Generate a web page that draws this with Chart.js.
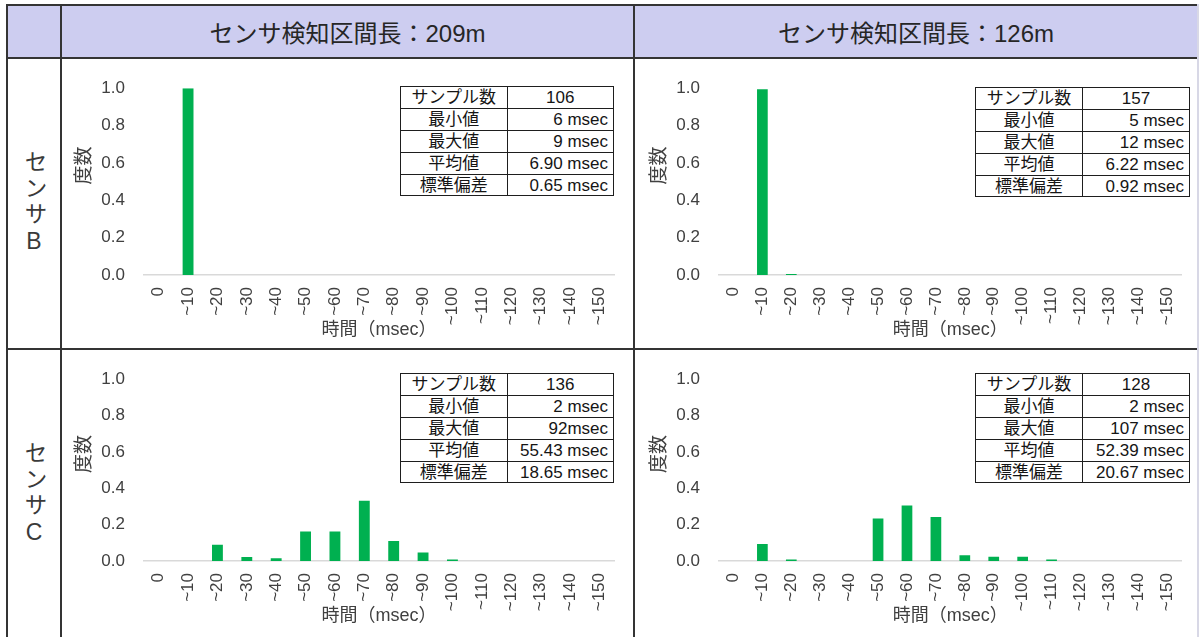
<!DOCTYPE html>
<html lang="ja">
<head>
<meta charset="utf-8">
<title>センサ検知時間の度数分布</title>
<script src="https://cdn.jsdelivr.net/npm/chart.js@4.4.1/dist/chart.umd.min.js"></script>
<style>
  html, body { margin: 0; padding: 0; background: #fff; }
  body {
    width: 1200px; height: 637px; position: relative; overflow: hidden;
    font-family: "Liberation Sans", "Noto Sans CJK JP", sans-serif;
  }
  .hdr-bg { position: absolute; left: 7px; top: 5px; width: 1191px; height: 53px; background: #cdcdf0; }
  .hl, .vl { position: absolute; background: #343434; }
  .hl { height: 2px; }
  .vl { width: 2px; }
  .head {
    position: absolute; top: 5px; height: 53px;
    display: flex; align-items: center; justify-content: center;
    font-size: 24px; color: #262626;
  }
  .side {
    position: absolute; left: 7px; width: 54px;
    display: flex; align-items: center; justify-content: center;
  }
  .side span {
    writing-mode: vertical-rl; text-orientation: upright;
    font-size: 23px; color: #3a3a3a; letter-spacing: 3px;
  }
  .cell { position: absolute; }
  .cell canvas { position: absolute; left: 0; top: 0; }
  .stats {
    position: absolute; border-collapse: collapse; table-layout: fixed;
    font-size: 17px; color: #151515; background: #fff;
  }
  .stats td {
    border: 1.5px solid #1e1e1e; height: 21.9px; padding: 0 5px;
    line-height: 1; white-space: nowrap; box-sizing: border-box;
  }
  .stats td.k { text-align: center; }
  .stats td.v { text-align: right; }
  .stats tr:first-of-type td.v { text-align: center; }
</style>
</head>
<body>
<script>
// ---- histogram bins (time, msec) ----
const binLabels = ['0', '~10', '~20', '~30', '~40', '~50', '~60', '~70',
                   '~80', '~90', '~100', '~110', '~120', '~130', '~140', '~150'];

// relative frequency per bin
const sensorB209 = [0, 1.000, 0, 0, 0, 0, 0, 0, 0, 0, 0, 0, 0, 0, 0, 0];
const sensorB126 = [0, 0.994, 0.006, 0, 0, 0, 0, 0, 0, 0, 0, 0, 0, 0, 0, 0];
const sensorC209 = [0, 0, 0.089, 0.022, 0.015, 0.162, 0.162, 0.331, 0.110, 0.047, 0.008, 0, 0, 0, 0, 0];
const sensorC126 = [0, 0.094, 0.008, 0, 0, 0.234, 0.305, 0.242, 0.031, 0.023, 0.023, 0.008, 0, 0, 0, 0];

// y axis ticks
const yTicks = [0, 0.2, 0.4, 0.6, 0.8, 1.0];

// summary statistics
const statNames = ['サンプル数', '最小値', '最大値', '平均値', '標準偏差'];
const statsB209 = ['106', '6 msec', '9 msec', '6.90 msec', '0.65 msec'];
const statsB126 = ['157', '5 msec', '12 msec', '6.22 msec', '0.92 msec'];
const statsC209 = ['136', '2 msec', '92msec', '55.43 msec', '18.65 msec'];
const statsC126 = ['128', '2 msec', '107 msec', '52.39 msec', '20.67 msec'];

// table headings
const sectionTitles = ['センサ検知区間長：209m', 'センサ検知区間長：126m'];
const sensorNames = ['センサB', 'センサC'];
const xTitle = '時間（msec）';
const yTitle = '度数';

// ---- page grid ----
const colX = [7, 61, 634, 1198];
const rowY = [5, 58, 349, 640];

function addDiv(cls, style, text) {
  const d = document.createElement('div');
  d.className = cls;
  Object.assign(d.style, style);
  if (text !== undefined) d.textContent = text;
  document.body.appendChild(d);
  return d;
}

addDiv('hdr-bg', {});
sectionTitles.forEach((t, i) => {
  addDiv('head', { left: colX[i + 1] + 'px', width: (colX[i + 2] - colX[i + 1]) + 'px' }, t);
});
sensorNames.forEach((t, i) => {
  const d = addDiv('side', { top: rowY[i + 1] + 'px', height: (rowY[i + 2] - rowY[i + 1]) + 'px' });
  const s = document.createElement('span');
  s.textContent = t;
  d.appendChild(s);
});
rowY.forEach(y => addDiv('hl', { left: (colX[0] - 1) + 'px', top: (y - 1) + 'px', width: (colX[3] - colX[0] + 2) + 'px' }));
colX.forEach((x, i) => addDiv('vl', {
  left: (x - 1) + 'px', top: (rowY[0] - 1) + 'px', height: (rowY[3] - rowY[0] + 2) + 'px',
  background: i === 3 ? '#d8d8e6' : '#343434'
}));

// ---- panels ----
const panels = [
  { values: sensorB209, stats: statsB209, left: 62,  top: 59,  w: 571, h: 289, padTop: 26, padBottom: 0, padRight: 19, yWidth: 82, tbl: [338, 27, 214] },
  { values: sensorB126, stats: statsB126, left: 635, top: 59,  w: 565, h: 289, padTop: 25, padBottom: 0, padRight: 11, yWidth: 84, tbl: [340, 28, 215] },
  { values: sensorC209, stats: statsC209, left: 62,  top: 350, w: 571, h: 289, padTop: 21, padBottom: 5, padRight: 19, yWidth: 82, tbl: [338, 23, 214] },
  { values: sensorC126, stats: statsC126, left: 635, top: 350, w: 565, h: 289, padTop: 21, padBottom: 5, padRight: 11, yWidth: 84, tbl: [340, 23, 215] }
];

const textColor = '#404040';

// y-axis caption, set a little above the middle of the value axis
const yCaption = {
  id: 'yCaption',
  afterDraw(chart) {
    const { ctx, chartArea } = chart;
    ctx.save();
    ctx.fillStyle = textColor;
    ctx.font = '19px "Noto Sans CJK JP"';
    ctx.textAlign = 'center';
    ctx.textBaseline = 'middle';
    ctx.translate(chartArea.left - 61, (chartArea.top + chartArea.bottom) / 2 - 16);
    ctx.rotate(-Math.PI / 2);
    ctx.fillText(yTitle, 0, 0);
    ctx.restore();
  }
};

panels.forEach(p => {
  const cell = addDiv('cell', { left: p.left + 'px', top: p.top + 'px', width: p.w + 'px', height: p.h + 'px' });
  const cv = document.createElement('canvas');
  cv.width = p.w; cv.height = p.h;
  cv.style.width = p.w + 'px'; cv.style.height = p.h + 'px';
  cell.appendChild(cv);

  new Chart(cv, {
    type: 'bar',
    data: {
      labels: binLabels,
      datasets: [{
        data: p.values,
        backgroundColor: '#00b050',
        borderWidth: 0,
        barPercentage: 0.37,
        categoryPercentage: 1.0
      }]
    },
    plugins: [yCaption],
    options: {
      responsive: false,
      animation: false,
      devicePixelRatio: 1,
      layout: { padding: { top: p.padTop, bottom: p.padBottom, left: 0, right: p.padRight } },
      plugins: { legend: { display: false }, tooltip: { enabled: false } },
      scales: {
        x: {
          grid: { display: false, drawTicks: false },
          border: { display: true, color: '#d9d9d9', width: 1.5 },
          ticks: {
            autoSkip: false, maxRotation: 90, minRotation: 90, padding: 12,
            color: textColor, font: { family: 'Liberation Sans', size: 17 }
          },
          title: {
            display: true, text: xTitle, color: textColor,
            font: { family: '"Liberation Sans", "Noto Sans CJK JP"', size: 18 },
            padding: { top: 0, bottom: 7 }
          },
          afterFit: s => { s.height = 73; }
        },
        y: {
          min: 0, max: 1,
          afterBuildTicks: s => { s.ticks = yTicks.map(v => ({ value: v })); },
          grid: { display: false, drawTicks: false },
          border: { display: false },
          ticks: {
            padding: 19, color: textColor,
            font: { family: 'Liberation Sans', size: 17 },
            callback: v => Number(v).toFixed(1)
          },
          afterFit: s => { s.width = p.yWidth; }
        }
      }
    }
  });

  // summary table
  const t = document.createElement('table');
  t.className = 'stats';
  t.style.left = p.tbl[0] + 'px';
  t.style.top = p.tbl[1] + 'px';
  t.style.width = p.tbl[2] + 'px';
  const cg = document.createElement('colgroup');
  ['50%', '50%'].forEach(w => { const c = document.createElement('col'); c.style.width = w; cg.appendChild(c); });
  t.appendChild(cg);
  statNames.forEach((name, i) => {
    const tr = document.createElement('tr');
    const k = document.createElement('td'); k.className = 'k'; k.textContent = name;
    const v = document.createElement('td'); v.className = 'v'; v.textContent = p.stats[i];
    tr.appendChild(k); tr.appendChild(v);
    t.appendChild(tr);
  });
  cell.appendChild(t);
});
</script>
</body>
</html>
